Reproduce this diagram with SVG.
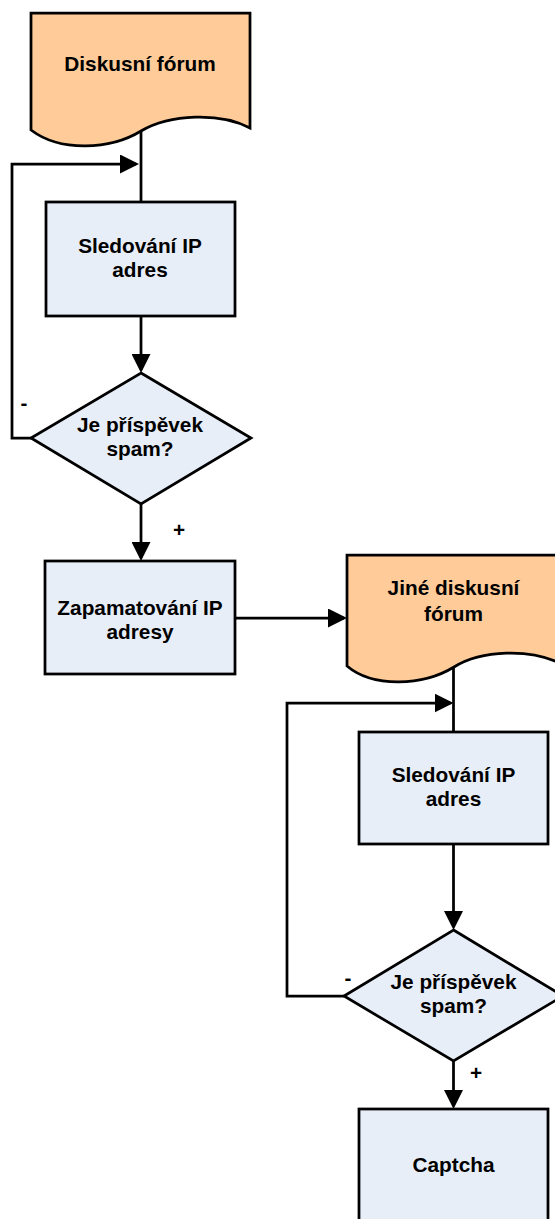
<svg xmlns="http://www.w3.org/2000/svg" width="555" height="1219" viewBox="0 0 555 1219">
<style>
.doc{fill:#FFCC99;stroke:#000;stroke-width:2.75;stroke-linejoin:miter}
.box{fill:#E8EEF8;stroke:#000;stroke-width:2.75}
.t{font-family:"Liberation Sans",Arial,sans-serif;font-weight:bold;font-size:20.8px;fill:#000;text-anchor:middle}
.lbl{font-family:"Liberation Sans",Arial,sans-serif;font-weight:bold;font-size:20.8px;fill:#000;text-anchor:middle}
.c{fill:none;stroke:#000;stroke-width:2.75}
</style>
<defs>
<marker id="ah" markerUnits="userSpaceOnUse" viewBox="0 0 19 19" markerWidth="19" markerHeight="19" refX="16" refY="9.5" orient="auto">
<path d="M0,0 L19,9.5 L0,19 Z" fill="#000"/>
</marker>
</defs>
<rect width="555" height="1219" fill="#fff"/>
<g id="connectors">
<path class="c" d="M141,131 V202"/>
<path class="c" d="M31,438 H12 V164 H136" marker-end="url(#ah)"/>
<path class="c" d="M141,316 V370" marker-end="url(#ah)"/>
<path class="c" d="M141,504 V558" marker-end="url(#ah)"/>
<path class="c" d="M235,618 H344" marker-end="url(#ah)"/>
<path class="c" d="M453.5,667 V732"/>
<path class="c" d="M344,996 H287 V703 H450.5" marker-end="url(#ah)"/>
<path class="c" d="M453.5,844 V927" marker-end="url(#ah)"/>
<path class="c" d="M453.5,1061 V1106" marker-end="url(#ah)"/>
</g>
<g id="doc1">
<path class="doc" d="M31,13 H250 V128 C220,112 170,114 141,131 C110,150 60,152 31,130 Z"/>
<text class="t" x="140" y="71">Diskusní fórum</text>
</g>
<g id="rect1">
<rect class="box" x="46" y="202" width="189" height="114"/>
<text class="t" x="140" y="253">Sledování IP</text>
<text class="t" x="140" y="277">adres</text>
</g>
<g id="dec1">
<polygon class="box" points="141,373 251,438 141,504 31,438"/>
<text class="t" x="140" y="432">Je příspěvek</text>
<text class="t" x="140" y="456">spam?</text>
</g>
<g id="rect2">
<rect class="box" x="45" y="561" width="190" height="113"/>
<text class="t" x="140" y="615">Zapamatování IP</text>
<text class="t" x="140" y="639">adresy</text>
</g>
<g id="doc2">
<path class="doc" d="M347,555 H561 V664 C531,648 481,650 454,667 C423,686 373,688 347,666 Z"/>
<text class="t" x="453.5" y="595">Jiné diskusní</text>
<text class="t" x="453.5" y="621">fórum</text>
</g>
<g id="rect3">
<rect class="box" x="359" y="732" width="189" height="112"/>
<text class="t" x="453.5" y="782">Sledování IP</text>
<text class="t" x="453.5" y="806">adres</text>
</g>
<g id="dec2">
<polygon class="box" points="453.5,930 563,996 453.5,1061 344,996"/>
<text class="t" x="453.5" y="989">Je příspěvek</text>
<text class="t" x="453.5" y="1013">spam?</text>
</g>
<g id="captcha">
<rect class="box" x="359" y="1109" width="189" height="130"/>
<text class="t" x="453.5" y="1172">Captcha</text>
</g>
<g id="labels">
<text class="lbl" x="24" y="410">-</text>
<text class="lbl" x="179" y="537">+</text>
<text class="lbl" x="348" y="985">-</text>
<text class="lbl" x="476" y="1080">+</text>
</g>
</svg>
